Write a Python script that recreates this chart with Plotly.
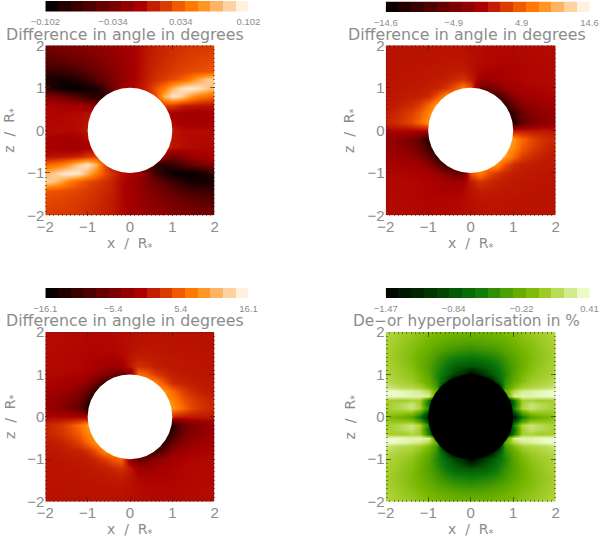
import numpy as np
import plotly.graph_objects as go

# grid of the maps, in stellar radii
X_GRID = [-2.0, -1.8, -1.6, -1.4, -1.2, -1.0, -0.8, -0.6, -0.4, -0.2, 0.0, 0.2, 0.4, 0.6, 0.8, 1.0, 1.2, 1.4, 1.6, 1.8, 2.0]
Z_GRID = [2.0, 1.8, 1.6, 1.4, 1.2, 1.0, 0.8, 0.6, 0.4, 0.2, 0.0, -0.2, -0.4, -0.6, -0.8, -1.0, -1.2, -1.4, -1.6, -1.8, -2.0]
Z_GRID_POL = [2.0, 1.8, 1.6, 1.4, 1.2, 1.0, 0.85, 0.7, 0.6, 0.5, 0.4, 0.3, 0.2, 0.1, 0.0, -0.1, -0.2, -0.3, -0.4, -0.5, -0.6, -0.7, -0.85, -1.0, -1.2, -1.4, -1.6, -1.8, -2.0]

# top left map, in 1e-3 degrees
ANGLE_A = [
    [-36, -34, -32, -30, -28, -25, -22, -19, -16, -12, -8, -3, 3, 7, 10, 13, 15, 16, 17, 18, 19],
    [-44, -42, -40, -37, -34, -31, -27, -23, -19, -14, -9, -3, 4, 8, 11, 14, 17, 19, 20, 21, 22],
    [-56, -54, -52, -48, -44, -39, -33, -27, -22, -16, -10, -3, 5, 9, 13, 16, 19, 21, 23, 24, 26],
    [-70, -70, -68, -64, -58, -50, -42, -33, -26, -18, -11, -3, 6, 11, 15, 19, 22, 25, 27, 29, 31],
    [-88, -90, -90, -88, -80, -68, -55, -42, -30, -20, -10, -2, 7, 14, 20, 26, 34, 46, 62, 78, 84],
    [-70, -85, -95, -100, -100, -95, -85, -65, -35, -15, -4, 0, 12, 28, 46, 70, 90, 95, 92, 80, 70],
    [-26, -30, -38, -46, -58, -72, -80, -78, -55, -15, 0, 0, 0, 25, 70, 92, 82, 62, 48, 40, 35],
    [-5, -5, -6, -8, -10, -16, -28, -35, -20, 0, 0, 0, 0, 0, 20, 18, 8, 5, 3, 2, 0],
    [-3, -4, -4, -3, -2, 0, 3, 12, 0, 0, 0, 0, 0, 0, -8, -8, -10, -11, -10, -8, -6],
    [-3, -3, -3, -2, -1, 2, 10, 0, 0, 0, 0, 0, 0, 0, 0, -4, -8, -10, -10, -8, -6],
    [-2, -2, -2, -2, -1, 4, 0, 0, 0, 0, 0, 0, 0, 0, 0, 4, -1, -2, -2, -2, -2],
    [-6, -8, -10, -10, -8, -4, 0, 0, 0, 0, 0, 0, 0, 0, 10, 2, -1, -2, -3, -3, -3],
    [-6, -8, -10, -11, -10, -8, -8, 0, 0, 0, 0, 0, 0, 0, 12, 3, 0, -2, -3, -4, -3],
    [0, 2, 3, 5, 8, 18, 20, 0, 0, 0, 0, 0, 0, 0, -20, -35, -28, -16, -10, -8, -5],
    [35, 40, 48, 62, 82, 92, 70, 25, 0, 0, 0, -15, -55, -78, -80, -72, -58, -46, -38, -30, -26],
    [70, 80, 92, 95, 90, 70, 46, 28, 12, 0, -4, -15, -35, -65, -85, -95, -100, -100, -95, -85, -70],
    [84, 78, 62, 46, 34, 26, 20, 14, 7, -2, -10, -20, -30, -42, -55, -68, -80, -88, -90, -90, -88],
    [31, 29, 27, 25, 22, 19, 15, 11, 6, -3, -11, -18, -26, -33, -42, -50, -58, -64, -68, -70, -70],
    [26, 24, 23, 21, 19, 16, 13, 9, 5, -3, -10, -16, -22, -27, -33, -39, -44, -48, -52, -54, -56],
    [22, 21, 20, 19, 17, 14, 11, 8, 4, -3, -9, -14, -19, -23, -27, -31, -34, -37, -40, -42, -44],
    [19, 18, 17, 16, 15, 13, 10, 7, 3, -3, -8, -12, -16, -19, -22, -25, -28, -30, -32, -34, -36],
]

# top right map, degrees
ANGLE_B = [
    [0.2, 0.2, 0.2, 0.2, 0.2, 0.2, 0.2, 0.2, 0.2, 0.1, 0.0, -0.2, -0.3, -0.4, -0.4, -0.4, -0.4, -0.3, -0.3, -0.3, -0.3],
    [0.2, 0.2, 0.2, 0.2, 0.2, 0.2, 0.3, 0.3, 0.3, 0.2, 0.0, -0.2, -0.4, -0.5, -0.5, -0.5, -0.4, -0.4, -0.3, -0.3, -0.3],
    [0.2, 0.2, 0.2, 0.3, 0.3, 0.3, 0.4, 0.4, 0.5, 0.4, 0.1, -0.3, -0.5, -0.6, -0.6, -0.6, -0.5, -0.4, -0.4, -0.3, -0.3],
    [0.3, 0.3, 0.3, 0.3, 0.4, 0.5, 0.5, 0.7, 0.8, 0.9, 0.3, -0.6, -0.9, -0.9, -0.8, -0.7, -0.6, -0.5, -0.4, -0.4, -0.4],
    [0.3, 0.3, 0.4, 0.4, 0.5, 0.6, 0.8, 1.0, 1.6, 2.2, 0.8, -1.3, -1.9, -1.4, -1.0, -0.8, -0.6, -0.5, -0.4, -0.4, -0.4],
    [0.4, 0.4, 0.5, 0.6, 0.7, 0.9, 1.3, 2.4, 4.0, 7.0, 4.0, -6.0, -5.5, -4.0, -2.2, -1.3, -0.9, -0.7, -0.6, -0.5, -0.5],
    [0.5, 0.6, 0.7, 0.9, 1.1, 1.7, 4.0, 8.0, 8.0, 8.0, 5.0, -9.0, -9.0, -10.0, -6.5, -3.2, -2.0, -1.4, -1.1, -0.9, -0.7],
    [0.6, 0.8, 1.2, 1.8, 3.0, 5.5, 9.0, 9.0, 8.0, 8.0, 5.0, -9.0, -9.0, -10.0, -11.0, -6.5, -4.0, -2.8, -2.2, -1.8, -1.5],
    [1.0, 1.3, 2.2, 3.2, 4.6, 7.5, 9.0, 9.0, 8.0, 8.0, 5.0, -9.0, -9.0, -10.0, -12.0, -10.0, -6.0, -4.2, -3.2, -2.5, -2.0],
    [1.3, 1.8, 2.5, 3.6, 5.5, 8.0, 9.0, 9.0, 8.0, 8.0, 5.0, -9.0, -9.0, -10.0, -12.0, -12.0, -7.0, -5.0, -3.8, -3.0, -2.4],
    [-0.5, -0.5, -0.5, -0.5, -0.5, -0.5, 0.0, 0.0, 0.0, 0.0, 0.0, 0.0, 0.0, 0.0, 0.0, 0.5, 0.5, 0.5, 0.5, 0.5, 0.5],
    [-2.4, -3.0, -3.8, -5.0, -7.0, -12.0, -12.0, -10.0, -9.0, -9.0, -5.0, 8.0, 8.0, 9.0, 9.0, 8.0, 5.5, 3.6, 2.5, 1.8, 1.3],
    [-2.0, -2.5, -3.2, -4.2, -6.0, -10.0, -12.0, -10.0, -9.0, -9.0, -5.0, 8.0, 8.0, 9.0, 9.0, 7.5, 4.6, 3.2, 2.2, 1.3, 1.0],
    [-1.5, -1.8, -2.2, -2.8, -4.0, -6.5, -11.0, -10.0, -9.0, -9.0, -5.0, 8.0, 8.0, 9.0, 9.0, 5.5, 3.0, 1.8, 1.2, 0.8, 0.6],
    [-0.7, -0.9, -1.1, -1.4, -2.0, -3.2, -6.5, -10.0, -9.0, -9.0, -5.0, 8.0, 8.0, 8.0, 4.0, 1.7, 1.1, 0.9, 0.7, 0.6, 0.5],
    [-0.5, -0.5, -0.6, -0.7, -0.9, -1.3, -2.2, -4.0, -5.5, -6.0, 4.0, 7.0, 4.0, 2.4, 1.3, 0.9, 0.7, 0.6, 0.5, 0.4, 0.4],
    [-0.4, -0.4, -0.4, -0.5, -0.6, -0.8, -1.0, -1.4, -1.9, -1.3, 0.8, 2.2, 1.6, 1.0, 0.8, 0.6, 0.5, 0.4, 0.4, 0.3, 0.3],
    [-0.4, -0.4, -0.4, -0.5, -0.6, -0.7, -0.8, -0.9, -0.9, -0.6, 0.3, 0.9, 0.8, 0.7, 0.5, 0.5, 0.4, 0.3, 0.3, 0.3, 0.3],
    [-0.3, -0.3, -0.4, -0.4, -0.5, -0.6, -0.6, -0.6, -0.5, -0.3, 0.1, 0.4, 0.5, 0.4, 0.4, 0.3, 0.3, 0.3, 0.2, 0.2, 0.2],
    [-0.3, -0.3, -0.3, -0.4, -0.4, -0.5, -0.5, -0.5, -0.4, -0.2, 0.0, 0.2, 0.3, 0.3, 0.3, 0.2, 0.2, 0.2, 0.2, 0.2, 0.2],
    [-0.3, -0.3, -0.3, -0.3, -0.4, -0.4, -0.4, -0.4, -0.3, -0.2, 0.0, 0.1, 0.2, 0.2, 0.2, 0.2, 0.2, 0.2, 0.2, 0.2, 0.2],
]

# bottom left map, degrees
ANGLE_C = [
    [-0.3, -0.3, -0.3, -0.3, -0.4, -0.4, -0.4, -0.4, -0.3, -0.2, 0.0, 0.1, 0.2, 0.2, 0.2, 0.2, 0.2, 0.2, 0.2, 0.2, 0.2],
    [-0.3, -0.3, -0.3, -0.4, -0.4, -0.5, -0.5, -0.5, -0.4, -0.2, 0.0, 0.2, 0.3, 0.3, 0.3, 0.2, 0.2, 0.2, 0.2, 0.2, 0.2],
    [-0.3, -0.3, -0.4, -0.4, -0.5, -0.6, -0.6, -0.6, -0.5, -0.3, 0.1, 0.4, 0.5, 0.4, 0.4, 0.3, 0.3, 0.3, 0.2, 0.2, 0.2],
    [-0.4, -0.4, -0.4, -0.5, -0.6, -0.7, -0.8, -0.9, -1.0, -0.6, 0.4, 0.9, 0.8, 0.7, 0.5, 0.5, 0.4, 0.3, 0.3, 0.3, 0.3],
    [-0.4, -0.4, -0.4, -0.5, -0.6, -0.8, -1.1, -1.5, -2.1, -1.7, 0.7, 2.3, 1.7, 1.0, 0.8, 0.6, 0.5, 0.4, 0.4, 0.3, 0.3],
    [-0.5, -0.5, -0.6, -0.7, -0.9, -1.4, -2.4, -4.0, -6.0, -7.0, -3.5, 6.0, 5.0, 3.0, 1.7, 1.0, 0.7, 0.6, 0.5, 0.4, 0.4],
    [-0.7, -0.9, -1.1, -1.5, -2.2, -3.4, -7.0, -11.0, -10.0, -9.0, -5.0, 8.0, 8.0, 8.0, 4.5, 2.0, 1.3, 1.0, 0.8, 0.6, 0.5],
    [-1.5, -1.9, -2.4, -3.0, -4.4, -7.0, -12.0, -11.0, -10.0, -9.0, -5.0, 8.0, 8.0, 9.0, 9.0, 6.0, 3.5, 2.1, 1.3, 0.9, 0.7],
    [-2.1, -2.6, -3.4, -4.4, -6.2, -11.0, -13.0, -11.0, -10.0, -9.0, -5.0, 8.0, 8.0, 9.0, 9.0, 8.0, 5.2, 3.6, 2.6, 1.8, 1.3],
    [-2.5, -3.0, -4.0, -5.4, -7.5, -13.0, -13.0, -11.0, -10.0, -9.0, -5.0, 8.0, 8.0, 9.0, 9.0, 9.0, 6.4, 4.2, 2.9, 2.0, 1.5],
    [-0.5, -0.5, -0.5, -0.5, -0.5, -1.0, 0.0, 0.0, 0.0, 0.0, 0.0, 0.0, 0.0, 0.0, 0.0, 1.0, 0.5, 0.5, 0.5, 0.5, 0.5],
    [1.5, 2.0, 2.9, 4.2, 6.4, 9.0, 9.0, 9.0, 8.0, 8.0, 5.0, -9.0, -10.0, -11.0, -13.0, -13.0, -7.5, -5.4, -4.0, -3.0, -2.5],
    [1.3, 1.8, 2.6, 3.6, 5.2, 8.0, 9.0, 9.0, 8.0, 8.0, 5.0, -9.0, -10.0, -11.0, -13.0, -11.0, -6.2, -4.4, -3.4, -2.6, -2.1],
    [0.7, 0.9, 1.3, 2.1, 3.5, 6.0, 9.0, 9.0, 8.0, 8.0, 5.0, -9.0, -10.0, -11.0, -12.0, -7.0, -4.4, -3.0, -2.4, -1.9, -1.5],
    [0.5, 0.6, 0.8, 1.0, 1.3, 2.0, 4.5, 8.0, 8.0, 8.0, 5.0, -9.0, -10.0, -11.0, -7.0, -3.4, -2.2, -1.5, -1.1, -0.9, -0.7],
    [0.4, 0.4, 0.5, 0.6, 0.7, 1.0, 1.7, 3.0, 5.0, 6.0, -3.5, -7.0, -6.0, -4.0, -2.4, -1.4, -0.9, -0.7, -0.6, -0.5, -0.5],
    [0.3, 0.3, 0.4, 0.4, 0.5, 0.6, 0.8, 1.0, 1.7, 2.3, 0.7, -1.7, -2.1, -1.5, -1.1, -0.8, -0.6, -0.5, -0.4, -0.4, -0.4],
    [0.3, 0.3, 0.3, 0.3, 0.4, 0.5, 0.5, 0.7, 0.8, 0.9, 0.4, -0.6, -1.0, -0.9, -0.8, -0.7, -0.6, -0.5, -0.4, -0.4, -0.4],
    [0.2, 0.2, 0.2, 0.3, 0.3, 0.3, 0.4, 0.4, 0.5, 0.4, 0.1, -0.3, -0.5, -0.6, -0.6, -0.6, -0.5, -0.4, -0.4, -0.3, -0.3],
    [0.2, 0.2, 0.2, 0.2, 0.2, 0.2, 0.3, 0.3, 0.3, 0.2, 0.0, -0.2, -0.4, -0.5, -0.5, -0.5, -0.4, -0.4, -0.3, -0.3, -0.3],
    [0.2, 0.2, 0.2, 0.2, 0.2, 0.2, 0.2, 0.2, 0.1, 0.1, 0.0, -0.2, -0.3, -0.4, -0.4, -0.4, -0.4, -0.3, -0.3, -0.3, -0.3],
]

# bottom right map, percent
POLARISATION = [
    [0.08, 0.05, 0.02, -0.02, -0.06, -0.10, -0.13, -0.15, -0.17, -0.18, -0.18, -0.18, -0.17, -0.15, -0.13, -0.10, -0.06, -0.02, 0.02, 0.05, 0.08],
    [0.06, 0.02, -0.02, -0.06, -0.10, -0.15, -0.20, -0.24, -0.27, -0.29, -0.30, -0.29, -0.27, -0.24, -0.20, -0.15, -0.10, -0.06, -0.02, 0.02, 0.06],
    [0.04, 0.00, -0.05, -0.10, -0.15, -0.22, -0.30, -0.36, -0.40, -0.43, -0.45, -0.43, -0.40, -0.36, -0.30, -0.22, -0.15, -0.10, -0.05, 0.00, 0.04],
    [0.03, -0.02, -0.06, -0.12, -0.19, -0.29, -0.40, -0.50, -0.57, -0.60, -0.63, -0.60, -0.57, -0.50, -0.40, -0.29, -0.19, -0.12, -0.06, -0.02, 0.03],
    [0.05, 0.01, -0.04, -0.10, -0.20, -0.33, -0.47, -0.63, -0.75, -0.82, -0.85, -0.82, -0.75, -0.63, -0.47, -0.33, -0.20, -0.10, -0.04, 0.01, 0.05],
    [0.07, 0.03, -0.01, -0.06, -0.15, -0.30, -0.53, -0.72, -0.92, -1.15, -1.47, -1.15, -0.92, -0.72, -0.53, -0.30, -0.15, -0.06, -0.01, 0.03, 0.07],
    [0.10, 0.07, 0.03, 0.00, -0.10, -0.25, -0.48, -0.90, -1.47, -1.47, -1.47, -1.47, -1.47, -0.90, -0.48, -0.25, -0.10, 0.00, 0.03, 0.07, 0.10],
    [0.20, 0.14, 0.10, 0.08, 0.02, -0.12, -0.42, -1.47, -1.47, -1.47, -1.47, -1.47, -1.47, -1.47, -0.42, -0.12, 0.02, 0.08, 0.10, 0.14, 0.20],
    [0.36, 0.36, 0.32, 0.28, 0.24, 0.10, -0.25, -1.47, -1.47, -1.47, -1.47, -1.47, -1.47, -1.47, -0.25, 0.10, 0.24, 0.28, 0.32, 0.36, 0.36],
    [0.36, 0.36, 0.34, 0.30, 0.32, 0.26, -0.45, -1.47, -1.47, -1.47, -1.47, -1.47, -1.47, -1.47, -0.45, 0.26, 0.32, 0.30, 0.34, 0.36, 0.36],
    [0.02, 0.02, 0.00, 0.06, 0.02, -0.60, -1.47, -1.47, -1.47, -1.47, -1.47, -1.47, -1.47, -1.47, -1.47, -0.60, 0.02, 0.06, 0.00, 0.02, 0.02],
    [0.02, 0.07, 0.12, 0.18, 0.02, -0.70, -1.47, -1.47, -1.47, -1.47, -1.47, -1.47, -1.47, -1.47, -1.47, -0.70, 0.02, 0.18, 0.12, 0.07, 0.02],
    [0.02, 0.07, 0.12, 0.20, 0.07, -0.55, -1.47, -1.47, -1.47, -1.47, -1.47, -1.47, -1.47, -1.47, -1.47, -0.55, 0.07, 0.20, 0.12, 0.07, 0.02],
    [-0.02, -0.04, -0.06, -0.08, -0.35, -0.95, -1.47, -1.47, -1.47, -1.47, -1.47, -1.47, -1.47, -1.47, -1.47, -0.95, -0.35, -0.08, -0.06, -0.04, -0.02],
    [-0.10, -0.15, -0.20, -0.32, -0.62, -1.30, -1.47, -1.47, -1.47, -1.47, -1.47, -1.47, -1.47, -1.47, -1.47, -1.30, -0.62, -0.32, -0.20, -0.15, -0.10],
    [-0.02, -0.04, -0.06, -0.08, -0.35, -0.95, -1.47, -1.47, -1.47, -1.47, -1.47, -1.47, -1.47, -1.47, -1.47, -0.95, -0.35, -0.08, -0.06, -0.04, -0.02],
    [0.02, 0.07, 0.12, 0.20, 0.07, -0.55, -1.47, -1.47, -1.47, -1.47, -1.47, -1.47, -1.47, -1.47, -1.47, -0.55, 0.07, 0.20, 0.12, 0.07, 0.02],
    [0.02, 0.07, 0.12, 0.18, 0.02, -0.70, -1.47, -1.47, -1.47, -1.47, -1.47, -1.47, -1.47, -1.47, -1.47, -0.70, 0.02, 0.18, 0.12, 0.07, 0.02],
    [0.02, 0.02, 0.00, 0.06, 0.02, -0.60, -1.47, -1.47, -1.47, -1.47, -1.47, -1.47, -1.47, -1.47, -1.47, -0.60, 0.02, 0.06, 0.00, 0.02, 0.02],
    [0.36, 0.36, 0.34, 0.30, 0.32, 0.26, -0.45, -1.47, -1.47, -1.47, -1.47, -1.47, -1.47, -1.47, -0.45, 0.26, 0.32, 0.30, 0.34, 0.36, 0.36],
    [0.36, 0.36, 0.32, 0.28, 0.24, 0.10, -0.25, -1.47, -1.47, -1.47, -1.47, -1.47, -1.47, -1.47, -0.25, 0.10, 0.24, 0.28, 0.32, 0.36, 0.36],
    [0.20, 0.14, 0.10, 0.08, 0.02, -0.12, -0.42, -1.47, -1.47, -1.47, -1.47, -1.47, -1.47, -1.47, -0.42, -0.12, 0.02, 0.08, 0.10, 0.14, 0.20],
    [0.10, 0.07, 0.03, 0.00, -0.10, -0.25, -0.48, -0.90, -1.47, -1.47, -1.47, -1.47, -1.47, -0.90, -0.48, -0.25, -0.10, 0.00, 0.03, 0.07, 0.10],
    [0.07, 0.03, -0.01, -0.06, -0.15, -0.30, -0.53, -0.72, -0.92, -1.15, -1.47, -1.15, -0.92, -0.72, -0.53, -0.30, -0.15, -0.06, -0.01, 0.03, 0.07],
    [0.05, 0.01, -0.04, -0.10, -0.20, -0.33, -0.47, -0.63, -0.75, -0.82, -0.85, -0.82, -0.75, -0.63, -0.47, -0.33, -0.20, -0.10, -0.04, 0.01, 0.05],
    [0.03, -0.02, -0.06, -0.12, -0.19, -0.29, -0.40, -0.50, -0.57, -0.60, -0.63, -0.60, -0.57, -0.50, -0.40, -0.29, -0.19, -0.12, -0.06, -0.02, 0.03],
    [0.04, 0.00, -0.05, -0.10, -0.15, -0.22, -0.30, -0.36, -0.40, -0.43, -0.45, -0.43, -0.40, -0.36, -0.30, -0.22, -0.15, -0.10, -0.05, 0.00, 0.04],
    [0.06, 0.02, -0.02, -0.06, -0.10, -0.15, -0.20, -0.24, -0.27, -0.29, -0.30, -0.29, -0.27, -0.24, -0.20, -0.15, -0.10, -0.06, -0.02, 0.02, 0.06],
    [0.08, 0.05, 0.02, -0.02, -0.06, -0.10, -0.13, -0.15, -0.17, -0.18, -0.18, -0.18, -0.17, -0.15, -0.13, -0.10, -0.06, -0.02, 0.02, 0.05, 0.08],
]

# colour bars: the 16 levels and the four printed labels
BAR_A = [-0.0956, -0.0829, -0.0701, -0.0574, -0.0446, -0.0319, -0.0191, -0.0064, 0.0064, 0.0191, 0.0319, 0.0446, 0.0574, 0.0701, 0.0829, 0.0956]
BAR_B = [-13.69, -11.86, -10.04, -8.21, -6.39, -4.56, -2.74, -0.91, 0.91, 2.74, 4.56, 6.39, 8.21, 10.04, 11.86, 13.69]
BAR_C = [-15.09, -13.08, -11.07, -9.06, -7.04, -5.03, -3.02, -1.01, 1.01, 3.02, 5.03, 7.04, 9.06, 11.07, 13.08, 15.09]
BAR_D = [-1.411, -1.293, -1.176, -1.058, -0.940, -0.823, -0.705, -0.588, -0.470, -0.352, -0.235, -0.117, 0.000, 0.118, 0.235, 0.352]
TICKS_A = ["−0.102", "−0.034", "0.034", "0.102"]
TICKS_B = ["−14.6", "−4.9", "4.9", "14.6"]
TICKS_C = ["−16.1", "−5.4", "5.4", "16.1"]
TICKS_D = ["−1.47", "−0.84", "−0.22", "0.41"]
TITLE_ANGLE = "Difference in angle in degrees"
TITLE_POL = "De−or hyperpolarisation in %"

RED_TEMP = [[0, "#000000"], [0.47, "#aa0000"], [0.69, "#ff6a00"], [0.745, "#ff8400"], [1, "#ffffff"]]
GREEN_WHITE = [[0, "#000000"], [0.25, "#003c00"], [0.45, "#0a780a"], [0.6, "#50a000"], [0.7, "#76b600"],
               [0.8, "#a8d030"], [0.88, "#c8e478"], [0.96, "#e8f8b8"], [1, "#f8fff0"]]

W, H = 600, 539
FONT = "Liberation Sans"
GREY = "#8c8c8c"

# pixel boxes: map (left, right, top, bottom), colour bar (left, right, top, bottom), title centre
PANELS = [
    dict(z=ANGLE_A, scale=0.001, y=Z_GRID, rng=(-0.102, 0.102), bar=BAR_A, ticks=TICKS_A, title=TITLE_ANGLE, cs=RED_TEMP,
         box=(45.3, 214.7, 45.3, 215.5), barbox=(45.3, 248.5, 1, 11.5), disk="white", tx=125, ts=15.8),
    dict(z=ANGLE_B, scale=1, y=Z_GRID, rng=(-14.6, 14.6), bar=BAR_B, ticks=TICKS_B, title=TITLE_ANGLE, cs=RED_TEMP,
         box=(385.7, 555.7, 45.3, 215.5), barbox=(385.7, 589.5, 1.5, 12), disk="white", tx=466.7, ts=15.8),
    dict(z=ANGLE_C, scale=1, y=Z_GRID, rng=(-16.1, 16.1), bar=BAR_C, ticks=TICKS_C, title=TITLE_ANGLE, cs=RED_TEMP,
         box=(45.3, 214.7, 332, 501.5), barbox=(45.3, 248.5, 288, 298), disk="white", tx=125, ts=15.8),
    dict(z=POLARISATION, scale=1, y=Z_GRID_POL, rng=(-1.47, 0.41), bar=BAR_D, ticks=TICKS_D, title=TITLE_POL, cs=GREEN_WHITE,
         box=(385.7, 555.7, 332, 501.5), barbox=(385.7, 589.5, 288, 298), disk="black", tx=466.7, ts=15.3),
]

fig = go.Figure()
shapes = []
annotations = []
layout = {}
AXIS_TICK = dict(color=GREY, size=15, family=FONT)
LABEL = dict(color=GREY, size=14, family="DejaVu Sans")


def paper_text(text, px, py, font, angle=0):
    return dict(text=text, xref="paper", yref="paper", x=px / W, y=1 - py / H, xanchor="center", yanchor="middle",
                showarrow=False, font=font, textangle=angle)


for i, p in enumerate(PANELS):
    assert all(len(r) == len(X_GRID) for r in p["z"]) and len(p["z"]) == len(p["y"])
    n = 2 * i + 1
    xa, ya = f"x{n}", f"y{n}"
    xb, yb = f"x{n + 1}", f"y{n + 1}"
    left, right, top, bottom = p["box"]
    fig.add_trace(go.Heatmap(x=X_GRID, y=p["y"], z=(np.array(p["z"]) * p["scale"]).tolist(),
                             zmin=p["rng"][0], zmax=p["rng"][1], colorscale=p["cs"], zsmooth="best",
                             showscale=False, hoverinfo="skip", xaxis=xa, yaxis=ya))
    common = dict(range=[-2, 2], tickvals=[-2, -1, 0, 1, 2], ticktext=["−2", "−1", "0", "1", "2"],
                  ticks="inside", ticklen=5, tickwidth=1, tickcolor="rgba(40,40,40,0.6)", tickfont=AXIS_TICK,
                  mirror="ticks", showline=False, showgrid=False, zeroline=False, automargin=False,
                  minor=dict(ticks="inside", ticklen=2, dtick=0.1, tick0=0, tickcolor="rgba(40,40,40,0.5)", showgrid=False))
    layout[f"xaxis{n}"] = dict(common, domain=[left / W, right / W], anchor=ya)
    layout[f"yaxis{n}"] = dict(common, domain=[1 - bottom / H, 1 - top / H], anchor=xa)
    shapes.append(dict(type="circle", xref=xa, yref=ya, x0=-1, x1=1, y0=-1, y1=1, fillcolor=p["disk"], line=dict(width=0)))

    bl, br, bt, bb = p["barbox"]
    lo, hi = p["rng"]
    fig.add_trace(go.Heatmap(x=p["bar"], y=[0], z=[p["bar"]], zmin=lo, zmax=hi, colorscale=p["cs"],
                             showscale=False, hoverinfo="skip", xaxis=xb, yaxis=yb))
    layout[f"xaxis{n + 1}"] = dict(domain=[bl / W, br / W], anchor=yb, range=[lo, hi],
                                   tickvals=[lo, lo + (hi - lo) / 3, lo + 2 * (hi - lo) / 3, hi], ticktext=p["ticks"],
                                   tickfont=dict(color=GREY, size=9.5, family=FONT), ticks="", showgrid=False,
                                   zeroline=False, showline=False, automargin=False, ticklabelstandoff=3)
    layout[f"yaxis{n + 1}"] = dict(domain=[1 - bb / H, 1 - bt / H], anchor=xb, range=[-0.5, 0.5],
                                   showticklabels=False, ticks="", showgrid=False, zeroline=False)
    annotations.append(paper_text(p["title"], p["tx"], top - 11, dict(color=GREY, size=p["ts"], family="DejaVu Sans")))
    annotations.append(paper_text("x\u00a0\u00a0/\u00a0\u00a0R<sub>*</sub>", (left + right) / 2, bottom + 28, LABEL))
    annotations.append(paper_text("z\u00a0\u00a0/\u00a0\u00a0R<sub>*</sub>", left - 35, (top + bottom) / 2, LABEL, -90))

fig.update_layout(width=W, height=H, autosize=False, margin=dict(l=0, r=0, t=0, b=0),
                  paper_bgcolor="white", plot_bgcolor="white", shapes=shapes, annotations=annotations,
                  showlegend=False, **layout)
fig.write_html("out.html", config=dict(displayModeBar=False), post_script="document.body.style.margin='0';")
